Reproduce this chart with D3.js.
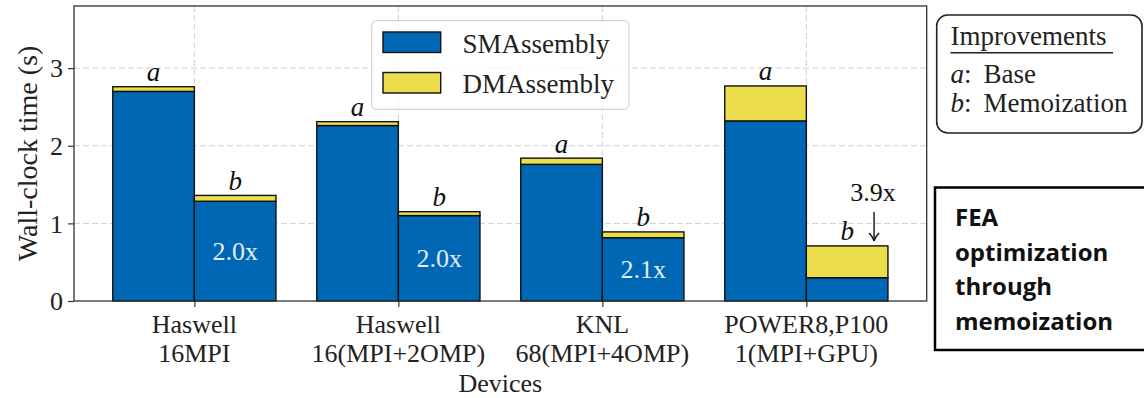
<!DOCTYPE html>
<html>
<head>
<meta charset="utf-8">
<script src="https://cdn.jsdelivr.net/npm/d3@7"></script>
<style>
  html, body { margin: 0; padding: 0; background: #fff; }
  svg { display: block; }
</style>
</head>
<body>
<svg id="chart" width="1144" height="398"></svg>
<script>
// ---- data ----
const devices = [
  ["Haswell", "16MPI"],
  ["Haswell", "16(MPI+2OMP)"],
  ["KNL", "68(MPI+4OMP)"],
  ["POWER8,P100", "1(MPI+GPU)"]
];
const smBase = [2.70, 2.26, 1.76, 2.32];
const dmBase = [0.06, 0.05, 0.08, 0.45];
const smMemo = [1.285, 1.10, 0.815, 0.30];
const dmMemo = [0.075, 0.05, 0.075, 0.41];
const speedups = ["2.0x", "2.0x", "2.1x", "3.9x"];
const yTicks = [0, 1, 2, 3];
const seriesNames = ["SMAssembly", "DMAssembly"];
const improvements = [["a", "Base"], ["b", "Memoization"]];
const noteLines = ["FEA", "optimization", "through", "memoization"];

// ---- styles ----
const BLUE = "#0067b4", YELLOW = "#ebdd4c";
const SERIF = "'Liberation Serif', 'Times New Roman', serif";
const SANS = "'Open Sans', 'Liberation Sans', sans-serif";

const svg = d3.select("#chart");
const L = 74, R = 926.7, T = 6, B = 301;

const x = d3.scaleLinear().domain([-0.59, 3.59]).range([L, R]);
const y = d3.scaleLinear().domain([0, 3.8]).range([B, T]);
const BW = 0.4;

// grid
const grid = svg.append("g");
grid.selectAll("line.hy").data(yTicks.filter(d => d > 0)).join("line")
  .attr("x1", L).attr("x2", R).attr("y1", d => y(d)).attr("y2", d => y(d))
  .attr("stroke", "#d0d0d0").attr("stroke-width", 1).attr("stroke-dasharray", "6,3");
grid.selectAll("line.vx").data(devices.map((d, i) => i)).join("line")
  .attr("y1", T).attr("y2", B).attr("x1", d => x(d)).attr("x2", d => x(d))
  .attr("stroke", "#d0d0d0").attr("stroke-width", 1).attr("stroke-dasharray", "6,3");

// bars
const bars = [];
devices.forEach((d, i) => {
  bars.push({ x0: i - BW, v0: 0, v1: smBase[i], c: BLUE });
  bars.push({ x0: i - BW, v0: smBase[i], v1: smBase[i] + dmBase[i], c: YELLOW });
  bars.push({ x0: i, v0: 0, v1: smMemo[i], c: BLUE });
  bars.push({ x0: i, v0: smMemo[i], v1: smMemo[i] + dmMemo[i], c: YELLOW });
});
svg.append("g").selectAll("rect").data(bars).join("rect")
  .attr("x", d => x(d.x0)).attr("width", d => x(d.x0 + BW) - x(d.x0))
  .attr("y", d => y(d.v1)).attr("height", d => y(d.v0) - y(d.v1))
  .attr("fill", d => d.c).attr("stroke", "#111").attr("stroke-width", 1.4);

// a / b labels
const lab = svg.append("g").attr("font-family", SERIF).attr("font-style", "italic")
  .attr("font-size", 27).attr("fill", "#111").attr("text-anchor", "middle");
devices.forEach((d, i) => {
  lab.append("text").attr("x", x(i - BW / 2)).attr("y", y(smBase[i] + dmBase[i]) - 5.5).text("a");
  lab.append("text").attr("x", x(i + BW / 2)).attr("y", y(smMemo[i] + dmMemo[i]) - 5.5).text("b");
});

// speedup labels
devices.forEach((d, i) => {
  if (smMemo[i] > 0.5) {
    svg.append("text").attr("x", x(i + BW / 2)).attr("y", y(smMemo[i] / 2) + 8.5)
      .attr("text-anchor", "middle").attr("font-family", SERIF).attr("font-size", 26)
      .attr("fill", "#e4ecf6").text(speedups[i]);
  } else {
    const ax = x(i + BW * 0.83);
    const top = y(smMemo[i] + dmMemo[i]);
    svg.append("text").attr("x", ax - 1).attr("y", top - 45)
      .attr("text-anchor", "middle").attr("font-family", SERIF).attr("font-size", 26)
      .attr("fill", "#111").text(speedups[i]);
    const ag = svg.append("g").attr("stroke", "#111").attr("stroke-width", 1.4).attr("fill", "none");
    ag.append("line").attr("x1", ax).attr("x2", ax).attr("y1", top - 34).attr("y2", top - 5);
    ag.append("path").attr("d", `M${ax - 5},${top - 13} Q${ax - 1},${top - 9} ${ax},${top - 5} Q${ax + 1},${top - 9} ${ax + 5},${top - 13}`);
  }
});

// frame
svg.append("rect").attr("x", L).attr("y", T).attr("width", R - L).attr("height", B - T)
  .attr("fill", "none").attr("stroke", "#333").attr("stroke-width", 1.3);

// y axis
const yAxis = svg.append("g").attr("transform", `translate(${L},0)`)
  .call(d3.axisLeft(y).tickValues(yTicks).tickFormat(d3.format("d")).tickSize(6).tickPadding(5));
yAxis.select(".domain").remove();
yAxis.selectAll("line").attr("stroke", "#333").attr("stroke-width", 1.2);
yAxis.selectAll("text").attr("font-family", SERIF).attr("font-size", 26).attr("fill", "#222")
  .attr("dy", "0.34em");

// x axis
const xAxis = svg.append("g").attr("transform", `translate(0,${B})`)
  .call(d3.axisBottom(x).tickValues(devices.map((d, i) => i)).tickFormat("").tickSize(6));
xAxis.select(".domain").remove();
xAxis.selectAll("line").attr("stroke", "#333").attr("stroke-width", 1.2);
const xl = svg.append("g").attr("font-family", SERIF).attr("font-size", 26).attr("fill", "#222")
  .attr("text-anchor", "middle");
devices.forEach((d, i) => {
  d.forEach((line, j) => {
    xl.append("text").attr("x", x(i)).attr("y", 332.5 + j * 29).text(line);
  });
});
xl.append("text").attr("x", (L + R) / 2).attr("y", 391.5).text("Devices");

// y label
svg.append("text").attr("transform", `translate(37,${(T + B) / 2}) rotate(-90)`)
  .attr("text-anchor", "middle").attr("font-family", SERIF).attr("font-size", 28)
  .attr("fill", "#222").text("Wall-clock time (s)");

// legend
const lg = svg.append("g");
lg.append("rect").attr("x", 371.7).attr("y", 20.7).attr("width", 257.3).attr("height", 88.6)
  .attr("rx", 5).attr("fill", "#fff").attr("fill-opacity", 0.8)
  .attr("stroke", "#d4d4d4").attr("stroke-width", 1.2);
[BLUE, YELLOW].forEach((c, k) => {
  lg.append("rect").attr("x", 383).attr("y", 32 + k * 40.5).attr("width", 57.7).attr("height", 20.5)
    .attr("fill", c).attr("stroke", "#111").attr("stroke-width", 1.4);
  lg.append("text").attr("x", 462.5).attr("y", 52.5 + k * 40.2).attr("font-family", SERIF)
    .attr("font-size", 27).attr("fill", "#222").text(seriesNames[k]);
});

// improvements box
const ib = svg.append("g").attr("font-family", SERIF).attr("fill", "#222");
ib.append("rect").attr("x", 936.7).attr("y", 15).attr("width", 205.3).attr("height", 118)
  .attr("rx", 11).attr("fill", "#fff").attr("stroke", "#222").attr("stroke-width", 1.6);
ib.append("text").attr("x", 950.5).attr("y", 45).attr("font-size", 27).text("Improvements");
ib.append("line").attr("x1", 950.5).attr("x2", 1113).attr("y1", 52.7).attr("y2", 52.7)
  .attr("stroke", "#222").attr("stroke-width", 1.4);
improvements.forEach((d, k) => {
  const t = ib.append("text").attr("x", 950.5).attr("y", 83.3 + k * 28.5).attr("font-size", 27);
  t.append("tspan").attr("font-style", "italic").text(d[0]);
  t.append("tspan").text(":");
  t.append("tspan").attr("dx", 12).text(d[1]);
});

// note box
const nb = svg.append("g");
nb.append("rect").attr("x", 935).attr("y", 187.5).attr("width", 220).attr("height", 162.5)
  .attr("fill", "#fff").attr("stroke", "#000").attr("stroke-width", 2.5);
noteLines.forEach((t, k) => {
  nb.append("text").attr("x", 955).attr("y", 226 + k * 34.5).attr("font-family", SANS)
    .attr("font-weight", 700).attr("font-size", 24).attr("fill", "#111").text(t);
});
</script>
</body>
</html>
